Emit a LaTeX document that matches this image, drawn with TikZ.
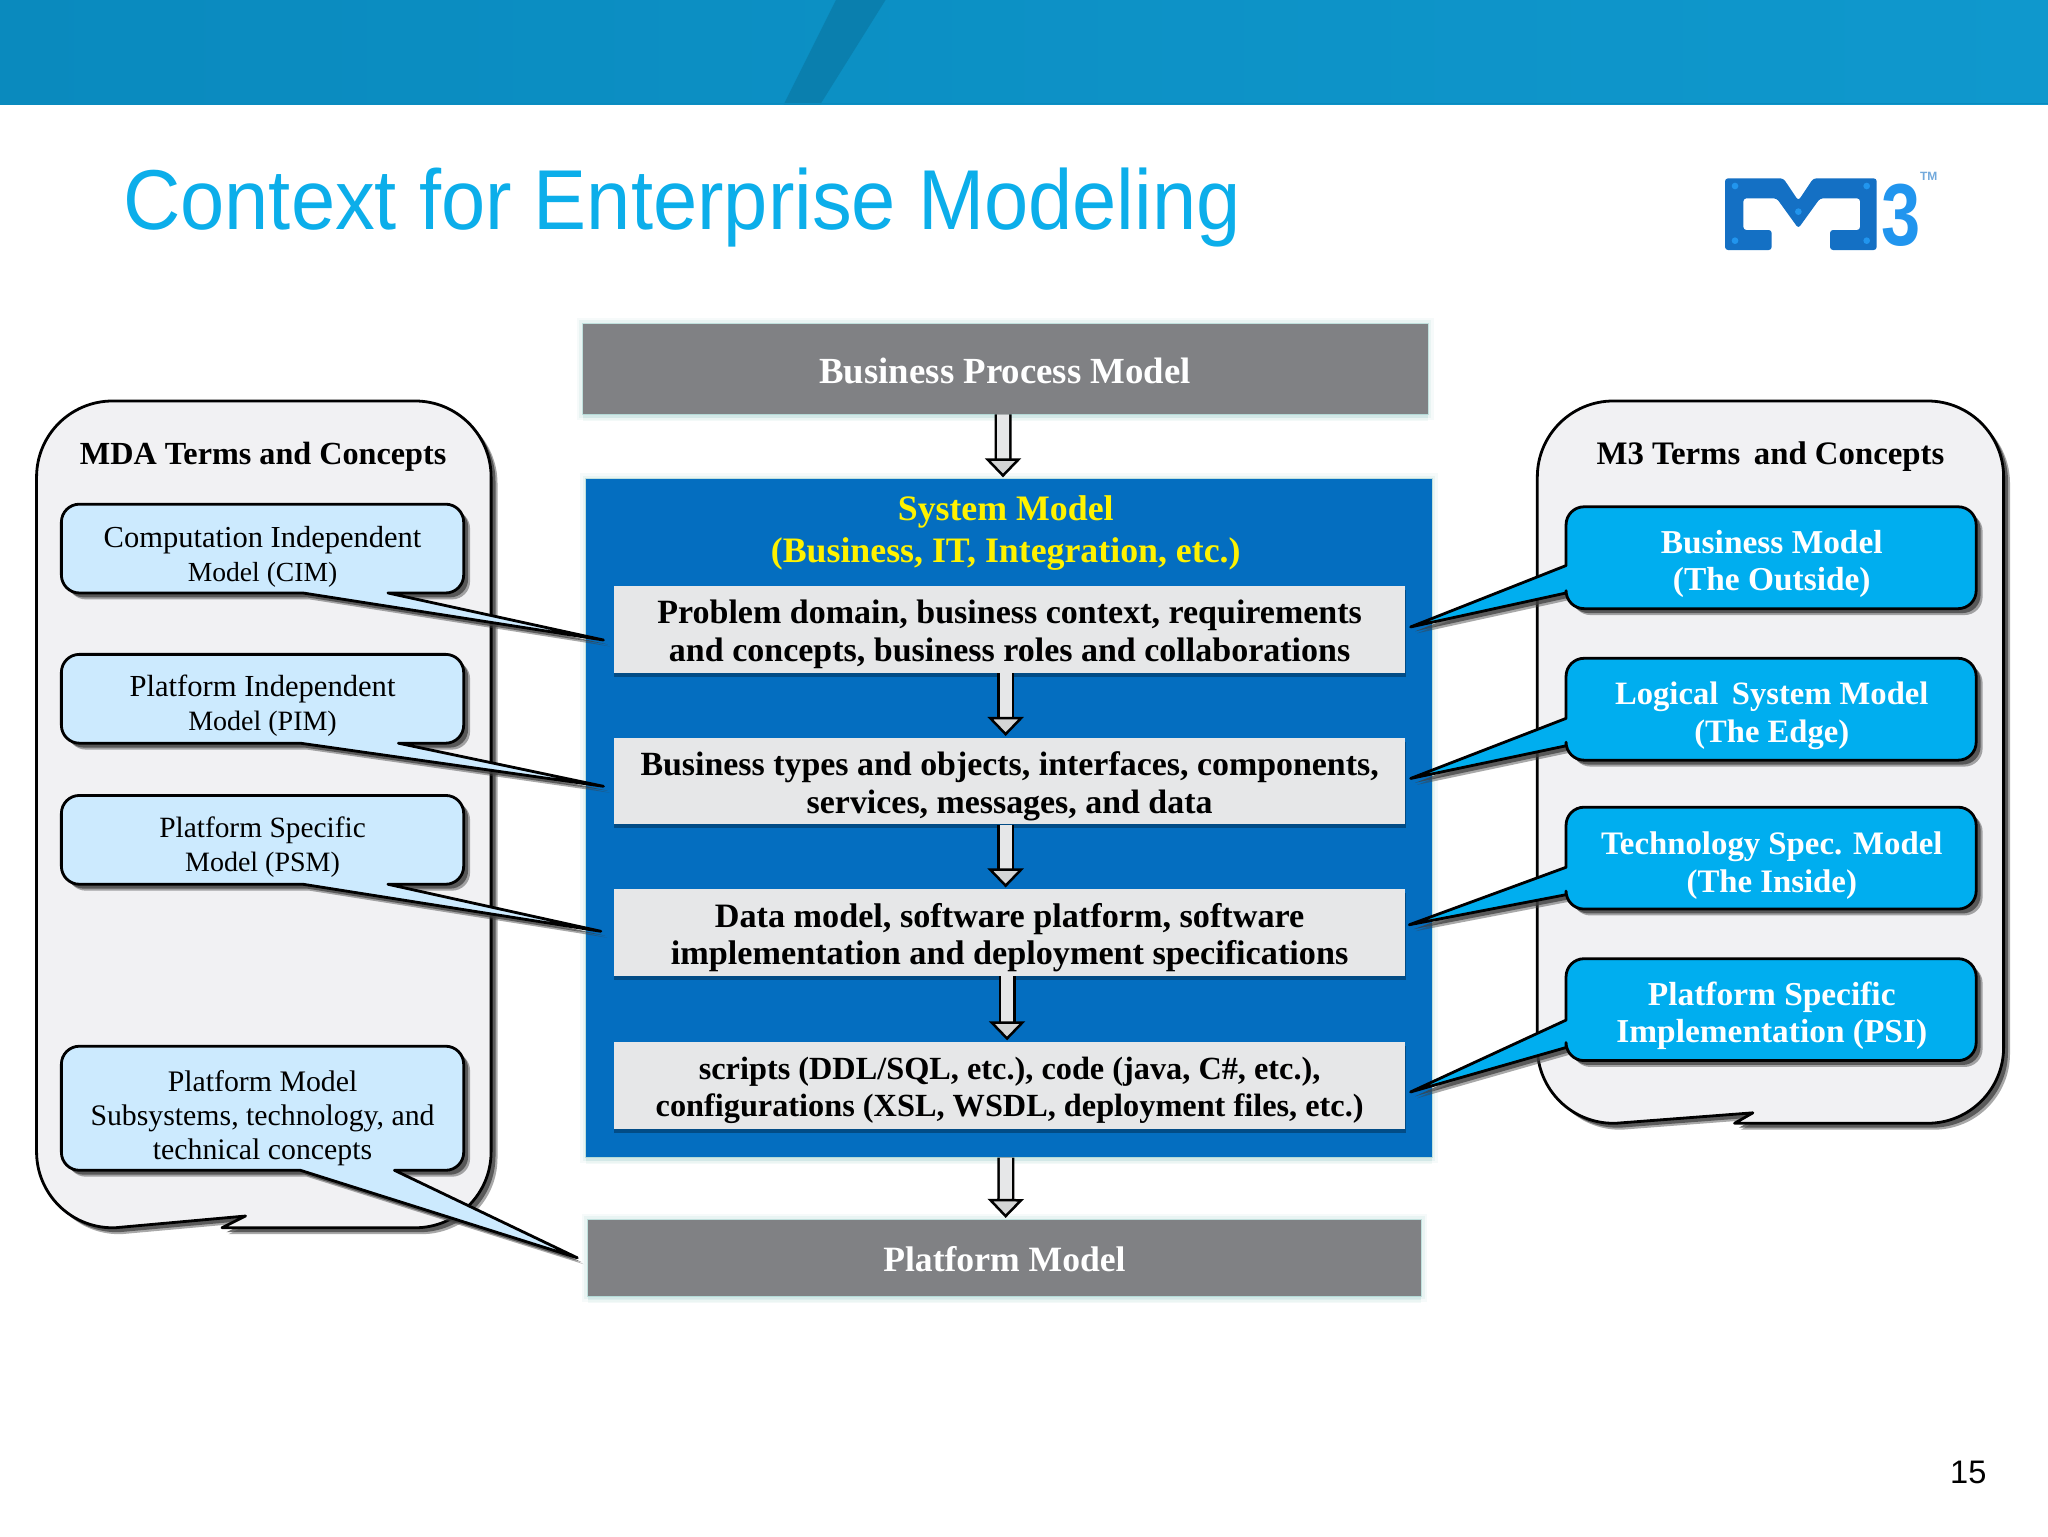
\documentclass[tikz,border=0pt]{standalone}
\usepackage{fontspec}
\usetikzlibrary{arrows.meta,calc}
\setmainfont{Liberation Serif}
\newfontfamily\sansf{Liberation Sans}
\newfontfamily\titlef{Liberation Sans}[FakeStretch=0.935]
\definecolor{bandl}{HTML}{0A8ABE}
\definecolor{bandr}{HTML}{0F98CD}
\definecolor{titleblue}{HTML}{0CAEEA}
\definecolor{slate}{HTML}{808184}
\definecolor{sysblue}{HTML}{046EC0}
\definecolor{inner}{HTML}{E6E7E8}
\definecolor{pale}{HTML}{CCEAFE}
\definecolor{cyanbox}{HTML}{00AEEF}
\definecolor{bub}{HTML}{F1F1F3}
\definecolor{aqua}{HTML}{8FC9C4}
\definecolor{logod}{HTML}{1470C4}
\definecolor{logol}{HTML}{2195EE}
\newcommand\smallline[1]{{\fontsize{#1}{17}\selectfont}}
\tikzset{
  glow/.style={preaction={fill=aqua,fill opacity=.10,transform canvas={yshift=-3.5pt}},
               preaction={fill=aqua,fill opacity=.15,transform canvas={yshift=-2pt}},
               preaction={draw=aqua,draw opacity=.08,line width=6pt},
               preaction={draw=aqua,draw opacity=.12,line width=3.5pt},
               preaction={draw=aqua,draw opacity=.45,line width=1pt}},
  block/.style={rectangle,inner sep=0pt,glow},
  slab/.style={rectangle,inner sep=0pt,fill=inner,
     preaction={fill=black,fill opacity=.3,transform canvas={xshift=.3pt,yshift=-2pt}}},
  shad/.style={preaction={fill=black!75,fill opacity=.45,draw=none,transform canvas={xshift=3.2pt,yshift=-3.2pt}},
               preaction={fill=black!75,fill opacity=.75,draw=none,transform canvas={xshift=2.2pt,yshift=-2.2pt}}},
  outline/.style={draw=black,line width=1.4pt,line join=round,shad},
  lbl/.style={align=center,inner sep=0pt,text depth=0pt},
  mainb/.style={lbl,font=\fontsize{#1}{18.9}\selectfont\bfseries},
  reg/.style={lbl,font=\fontsize{#1}{17}\selectfont},
  bigw/.style={lbl,text=white,font=\fontsize{#1}{18.9}\selectfont\bfseries},
  cyant/.style={lbl,text=white,font=\fontsize{#1}{18.9}\selectfont\bfseries},
  hd/.style={lbl,font=\fontsize{#1}{18}\selectfont\bfseries},
  flow/.style={line width=1.25pt,draw=black,double=inner,double distance=6pt,shorten >=.8pt,
     -{Triangle[open,length=9.5pt,width=18pt,line width=1.25pt,fill=inner!92!black]}},
}
\begin{document}
\begin{tikzpicture}[x=0.65306pt,y=-0.65306pt]
\useasboundingbox (0,0) rectangle (1568,1176);
\fill[white] (0,0) rectangle (1568,1176);
% header band
\shade[left color=bandl,right color=bandr] (0,0) rectangle (1568,80);
\fill[black!60!bandl,fill opacity=.18] (640,0) -- (678,0) -- (628,80) -- (600,80) -- cycle;
\fill[bandl] (0,78.5) rectangle (1568,80);
% title
\node[anchor=base west,inner sep=0pt,text=titleblue,font=\titlef\fontsize{42.5}{50}\selectfont] (title) at (94,175.5) {Context for Enterprise Modeling};
% logo
\begin{scope}[shift={(1286.25,99.53)},x=.16667pt,y=-.16667pt]
\fill[logod,rounded corners=1.5pt] (135,145) -- (310,145) -- (355,212) -- (400,145) -- (590,145) -- (590,360) -- (450,360) -- (450,300) -- (540,300) -- (540,205) -- (420,205) -- (355,295) -- (290,205) -- (190,205) -- (190,300) -- (275,300) -- (275,360) -- (135,360) -- cycle;
\foreach \p in {(165,168),(560,168),(355,245),(165,332),(560,332)} \fill[logol] \p circle (10);
\node[inner sep=0pt,text=logol,font=\sansf\bfseries\fontsize{44}{44}\selectfont] (logo3) at (662,255) {\scalebox{.8}[1]{3}};
\node[inner sep=0pt,text=logod!60!white,font=\sansf\bfseries\fontsize{6}{6}\selectfont] (logotm) at (746,140) {TM};
\end{scope}
% left bubble
\filldraw[outline,fill=bub,rounded corners=38pt] (28,307) -- (376,307) -- (376,940) [sharp corners] -- (170,940) -- (188,931) -- (88,940) [rounded corners=38pt] -- (28,940) -- cycle;
\node[hd=16.1] (mda) at (201.5,347) {MDA Terms and Concepts};
% right bubble
\filldraw[outline,fill=bub,rounded corners=38pt] (1177,307) -- (1534,307) -- (1534,860) [sharp corners] -- (1328,860) -- (1342,852) -- (1237,860) [rounded corners=38pt] -- (1177,860) -- cycle;
\node[hd=16.4] (m3) at (1355.5,347) {M3 Terms\, and Concepts};
% centre blocks
\node[block,fill=slate,minimum width=647*0.65306pt,minimum height=69*0.65306pt] (bpm) at (769.5,282.5) {};
\node[bigw=18.4] (bpmt) at (769.5,283.5) {Business Process Model};
\node[block,fill=sysblue,minimum width=647*0.65306pt,minimum height=519*0.65306pt] (sys) at (772.5,626.5) {};
\node[lbl,text=yellow,font=\fontsize{17.9}{21}\selectfont\bfseries] (systxt) at (770,405) {System Model\\(Business, IT, Integration, etc.)};
\node[slab,minimum width=606*0.65306pt,minimum height=66*0.65306pt] (a) at (773,482) {};
\node[slab,minimum width=606*0.65306pt,minimum height=66*0.65306pt] (b) at (773,598) {};
\node[slab,minimum width=606*0.65306pt,minimum height=66*0.65306pt] (c) at (773,714) {};
\node[slab,minimum width=606*0.65306pt,minimum height=66*0.65306pt] (d) at (773,831) {};
\node[mainb=17] (at) at (773,483) {Problem domain, business context, requirements\\and concepts, business roles and collaborations};
\node[mainb=16.95] (bt) at (773,599) {Business types and objects, interfaces, components,\\services, messages, and data};
\node[mainb=17.1] (ct) at (773,715) {Data model, software platform, software\\implementation and deployment specifications};
\node[mainb=16.15] (dt) at (773,832) {scripts (DDL/SQL, etc.), code (java, C\#, etc.),\\configurations (XSL, WSDL, deployment files, etc.)};
\node[block,fill=slate,minimum width=638*0.65306pt,minimum height=58*0.65306pt] (pm) at (769,963) {};
\node[bigw=17.8] (pmt) at (769,964) {Platform Model};
% block arrows
\draw[flow] ([xshift=-1pt]bpm.south) -- ([xshift=-3pt]sys.north);
\draw[flow] ([xshift=-2pt]a.south) -- ([xshift=-2pt]b.north);
\draw[flow] ([xshift=-2pt]b.south) -- ([xshift=-2pt]c.north);
\draw[flow] ([xshift=-1.3pt]c.south) -- ([xshift=-1.3pt]d.north);
\draw[flow] ([xshift=-1.5pt]sys.south) -- ([xshift=.6pt]pm.north);
% left callouts
\filldraw[outline,fill=pale,rounded corners=9pt] (47,386) -- (355,386) -- (355,454) [sharp corners] -- (297,454) -- (462,490) -- (232,454) [rounded corners=9pt] -- (47,454) -- cycle;
\node[reg=15.25] (cim) at (201,424) {Computation Independent\\\fontsize{13.8}{17}\selectfont Model (CIM)};
\filldraw[outline,fill=pale,rounded corners=9pt] (47,501) -- (355,501) -- (355,569) [sharp corners] -- (305,569) -- (462,602) -- (230,569) [rounded corners=9pt] -- (47,569) -- cycle;
\node[reg=15.3] (pim) at (201,538) {Platform Independent\\\fontsize{14}{17}\selectfont Model (PIM)};
\filldraw[outline,fill=pale,rounded corners=9pt] (47,609) -- (355,609) -- (355,677) [sharp corners] -- (297,677) -- (460,713) -- (232,677) [rounded corners=9pt] -- (47,677) -- cycle;
\node[reg=14.7] (psm) at (201,646) {Platform Specific\\\fontsize{14}{17}\selectfont Model (PSM)};
\filldraw[outline,fill=pale,rounded corners=9pt] (47,801) -- (355,801) -- (355,896) [sharp corners] -- (302,896) -- (442,963) -- (230,896) [rounded corners=9pt] -- (47,896) -- cycle;
\node[reg=14.9] (plat) at (201,853.5) {Platform Model\\Subsystems, technology, and\\technical concepts};
% right callouts
\filldraw[outline,fill=cyanbox,rounded corners=9pt] (1199,388) -- (1513,388) -- (1513,466) -- (1199,466) [sharp corners] -- (1199,454) -- (1080,480) -- (1199,433) [rounded corners=9pt] -- cycle;
\node[cyant=16.7] (r1) at (1356.5,429) {Business Model\\(The Outside)};
\filldraw[outline,fill=cyanbox,rounded corners=9pt] (1199,504) -- (1513,504) -- (1513,582) -- (1199,582) [sharp corners] -- (1199,571) -- (1080,596) -- (1199,550) [rounded corners=9pt] -- cycle;
\node[cyant=16.3] (r2) at (1356.5,545) {Logical\, System Model\\(The Edge)};
\filldraw[outline,fill=cyanbox,rounded corners=9pt] (1199,618) -- (1513,618) -- (1513,696) -- (1199,696) [sharp corners] -- (1199,685) -- (1079,708) -- (1199,664) [rounded corners=9pt] -- cycle;
\node[cyant=16.4] (r3) at (1356.5,660) {Technology Spec. Model\\(The Inside)};
\filldraw[outline,fill=cyanbox,rounded corners=9pt] (1199,734) -- (1513,734) -- (1513,812) -- (1199,812) [sharp corners] -- (1199,802) -- (1080,836) -- (1199,781) [rounded corners=9pt] -- cycle;
\node[cyant=16.7] (r4) at (1356.5,775) {Platform Specific\\Implementation (PSI)};
% page number
\node[inner sep=0pt,font=\sansf\fontsize{16.3}{20}\selectfont] (page) at (1507,1127) {15};
\end{tikzpicture}
\end{document}
